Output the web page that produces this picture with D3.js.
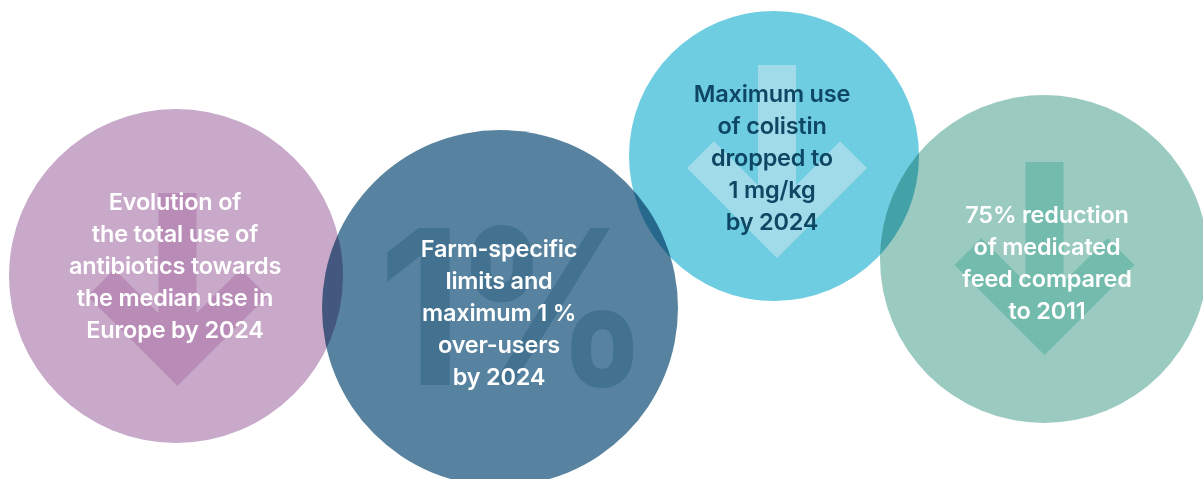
<!DOCTYPE html>
<html>
<head>
<meta charset="utf-8">
<script src="https://cdn.jsdelivr.net/npm/d3@7"></script>
<style>
  html, body { margin: 0; padding: 0; background: #ffffff; }
  svg { display: block; }
</style>
</head>
<body>
<svg id="chart" width="1203" height="479"></svg>
<script>
// ---- content ----
const labels = [
  ["Evolution of", "the total use of", "antibiotics towards", "the median use in", "Europe by 2024"],
  ["Farm-specific", "limits and", "maximum 1 %", "over-users", "by 2024"],
  ["Maximum use", "of colistin", "dropped to", "1 mg/kg", "by 2024"],
  ["75% reduction", "of medicated", "feed compared", "to 2011"]
];
const icons = ["arrow", "percent", "arrow", "arrow"];
const bigSymbol = "1%";

// ---- layout / style (kept separate from content) ----
const circleFill = ["#C8A9C9", "#5783A0", "#6ECDE0", "#9ACAC0"];
const iconFill   = ["#B98CB8", "#42728F", "#A1DBEA", "#72BBAD"];
const textFill   = ["#ffffff", "#ffffff", "#0E4763", "#ffffff"];
const layout = [
  { cx: 176,  cy: 276, r: 167, tx: 175,  ty: 210, ax: 177.5, atop: 193, atip: 386 },
  { cx: 500,  cy: 308, r: 178, tx: 499,  ty: 257, px: 510,   pbase: 385 },
  { cx: 774,  cy: 156, r: 145, tx: 772,  ty: 102, ax: 777,   atop: 65,  atip: 258 },
  { cx: 1044, cy: 259, r: 164, tx: 1047, ty: 223, ax: 1044.5, atop: 162, atip: 355 }
];
const lineHeight = 32;
const arrowT = 38;   // thickness
const arrowA = 90;   // half span of chevron

const items = labels.map((lines, i) => ({
  lines, icon: icons[i], fill: circleFill[i], iconFill: iconFill[i], textFill: textFill[i], ...layout[i]
}));

const svg = d3.select("#chart");

// circles with multiply blending so overlaps darken
svg.append("g").selectAll("circle")
  .data(items)
  .join("circle")
  .attr("cx", d => d.cx)
  .attr("cy", d => d.cy)
  .attr("r", d => d.r)
  .attr("fill", d => d.fill)
  .style("mix-blend-mode", "multiply");

function arrowPath(cx, top, T) {
  const t = arrowT, a = arrowA, h = t / 2, s = t / Math.SQRT2;
  const p = d3.path();
  p.moveTo(cx - h, top);
  p.lineTo(cx + h, top);
  p.lineTo(cx + h, T - t * Math.SQRT2 - h);
  p.lineTo(cx + a - s, T - a - s);
  p.lineTo(cx + a, T - a);
  p.lineTo(cx, T);
  p.lineTo(cx - a, T - a);
  p.lineTo(cx - a + s, T - a - s);
  p.lineTo(cx - h, T - t * Math.SQRT2 - h);
  p.closePath();
  return p.toString();
}

const icon = svg.append("g");
icon.selectAll("path")
  .data(items.filter(d => d.icon === "arrow"))
  .join("path")
  .attr("d", d => arrowPath(d.ax, d.atop, d.atip))
  .attr("fill", d => d.iconFill);

icon.selectAll("text")
  .data(items.filter(d => d.icon === "percent"))
  .join("text")
  .attr("transform", d => `translate(${d.px},${d.pbase}) scale(0.9,1)`)
  .attr("text-anchor", "middle")
  .attr("font-family", "Inter, 'Open Sans', sans-serif")
  .attr("font-weight", 700)
  .attr("font-size", 216)
  .attr("letter-spacing", -10)
  .attr("fill", d => d.iconFill)
  .text(bigSymbol);

// text blocks
const tg = svg.append("g")
  .attr("font-family", "Inter, 'Open Sans', sans-serif")
  .attr("font-weight", 600)
  .attr("font-size", 23.5)
  .attr("text-anchor", "middle");

tg.selectAll("text")
  .data(items)
  .join("text")
  .attr("fill", d => d.textFill)
  .attr("letter-spacing", -0.2)
  .selectAll("tspan")
  .data(d => d.lines.map((l, j) => ({ l, x: d.tx, y: d.ty + j * lineHeight })))
  .join("tspan")
  .attr("x", d => d.x)
  .attr("y", d => d.y)
  .text(d => d.l);
</script>
</body>
</html>
